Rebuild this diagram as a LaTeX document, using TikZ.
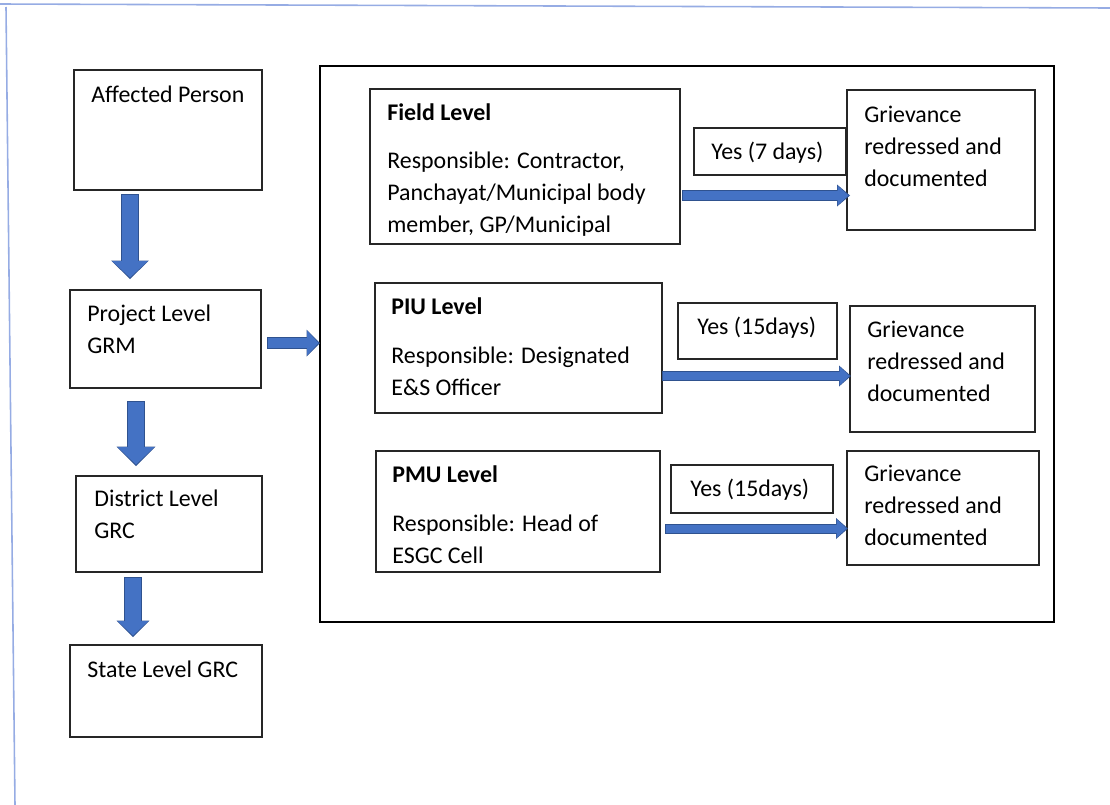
\documentclass[tikz,border=0pt]{standalone}
\usepackage{fontspec}
\setmainfont{Carlito}
\usetikzlibrary{arrows.meta,fit}
\definecolor{afill}{RGB}{68,114,196}
\definecolor{aedge}{RGB}{47,82,143}
\definecolor{framec}{RGB}{150,172,228}
\begin{document}
\begin{tikzpicture}[x=0.02cm,y=-0.02cm,
  box/.style={draw=black!85, line width=0.8pt, inner sep=0pt},
  txt/.style={anchor=base west, inner sep=0pt, align=left, font=\fontsize{13.6pt}{18.14pt}\selectfont},
  framel/.style={draw=framec, line width=0.9pt},
  barrow/.style n args={6}{preaction={draw=aedge, line width=#4, shorten >=0pt, shorten <=0pt,
      -{Triangle[width=#5,length=#6,line width=0pt]}},
    draw=afill, line width=#1, -{Triangle[width=#2,length=#3,line width=0pt]},
    shorten >=0.03cm, shorten <=0.02cm}]
\useasboundingbox (0,0) rectangle (1110,805);
% screenshot frame
\coordinate (fa) at (0,4); \coordinate (fb) at (1110,8);
\coordinate (fc) at (6,7); \coordinate (fd) at (15,805);
\draw[framel] (fa) -- (fb);
\draw[framel] (fc) -- (fd);
% left column
\node[box, fit={(74,70) (262,190)}] (ap) {};
\node[box, fit={(70,290) (261,388)}] (pl) {};
\node[box, fit={(76,476) (262,572)}] (dl) {};
\node[box, fit={(70,645) (262,737)}] (sl) {};
% (multi-line texts are placed by the baseline of their last line)
\node[txt] (tap) at (91,102) {Affected Person};
\node[txt] (tpl) at (87,353) {Project Level\\GRM};
\node[txt] (tdl) at (94,538) {District Level\\GRC};
\node[txt] (tsl) at (87,677) {State Level GRC};
% container
\node[box, line width=0.7pt, draw=black, fit={(320,66) (1054,622)}] (cont) {};
% level boxes
\node[box, fit={(370,89) (680,244)}] (fl) {};
\node[box, fit={(375,283) (662,413)}] (piu) {};
\node[box, fit={(376,451) (660,572)}] (pmu) {};
\node[txt] (tfl) at (387,232) {\textbf{Field Level}\\[9.1pt]Responsible: Contractor,\\Panchayat/Municipal body\\member, GP/Municipal};
\node[txt] (tpiu) at (391,395) {\textbf{PIU Level}\\[9.6pt]Responsible: Designated\\E\&S Officer};
\node[txt] (tpmu) at (392,563) {\textbf{PMU Level}\\[9.6pt]Responsible: Head of\\ESGC Cell};
% yes boxes
\node[box, fit={(694,128) (846,175)}] (y1) {};
\node[box, fit={(678,303) (837,359)}] (y2) {};
\node[box, fit={(671,465) (833,513)}] (y3) {};
\node[txt] (ty1) at (711,159) {Yes (7 days)};
\node[txt] (ty2) at (697,334) {Yes (15days)};
\node[txt] (ty3) at (690,496) {Yes (15days)};
% grievance boxes
\node[box, fit={(847,90) (1035,230)}] (g1) {};
\node[box, fit={(850,306) (1035,432)}] (g2) {};
\node[box, fit={(847,451) (1039,565)}] (g3) {};
\node[txt] (tg1) at (864,186) {Grievance\\redressed and\\documented};
\node[txt] (tg2) at (867,401) {Grievance\\redressed and\\documented};
\node[txt] (tg3) at (864,545) {Grievance\\redressed and\\documented};
% block arrows
\coordinate (d1a) at (130,194); \coordinate (d1b) at (130,279);
\coordinate (d2a) at (136,401); \coordinate (d2b) at (136,466);
\coordinate (d3a) at (133,577); \coordinate (d3b) at (133,637);
\coordinate (r0a) at (267,343); \coordinate (r0b) at (320,343);
\coordinate (r1a) at (682,195.5); \coordinate (r1b) at (850,195.5);
\coordinate (r2a) at (662,376); \coordinate (r2b) at (851,376);
\coordinate (r3a) at (665,528.5); \coordinate (r3b) at (848,528.5);
\draw[barrow={0.34cm}{0.72cm}{0.33cm}{0.38cm}{0.76cm}{0.37cm}] (d1a) -- (d1b);
\draw[barrow={0.34cm}{0.74cm}{0.35cm}{0.38cm}{0.78cm}{0.39cm}] (d2a) -- (d2b);
\draw[barrow={0.34cm}{0.62cm}{0.29cm}{0.38cm}{0.66cm}{0.33cm}] (d3a) -- (d3b);
\draw[barrow={0.20cm}{0.50cm}{0.23cm}{0.24cm}{0.54cm}{0.27cm}] (r0a) -- (r0b);
\draw[barrow={0.18cm}{0.40cm}{0.22cm}{0.22cm}{0.44cm}{0.26cm}] (r1a) -- (r1b);
\draw[barrow={0.16cm}{0.38cm}{0.20cm}{0.20cm}{0.42cm}{0.24cm}] (r2a) -- (r2b);
\draw[barrow={0.16cm}{0.38cm}{0.20cm}{0.20cm}{0.42cm}{0.24cm}] (r3a) -- (r3b);
\end{tikzpicture}
\end{document}
